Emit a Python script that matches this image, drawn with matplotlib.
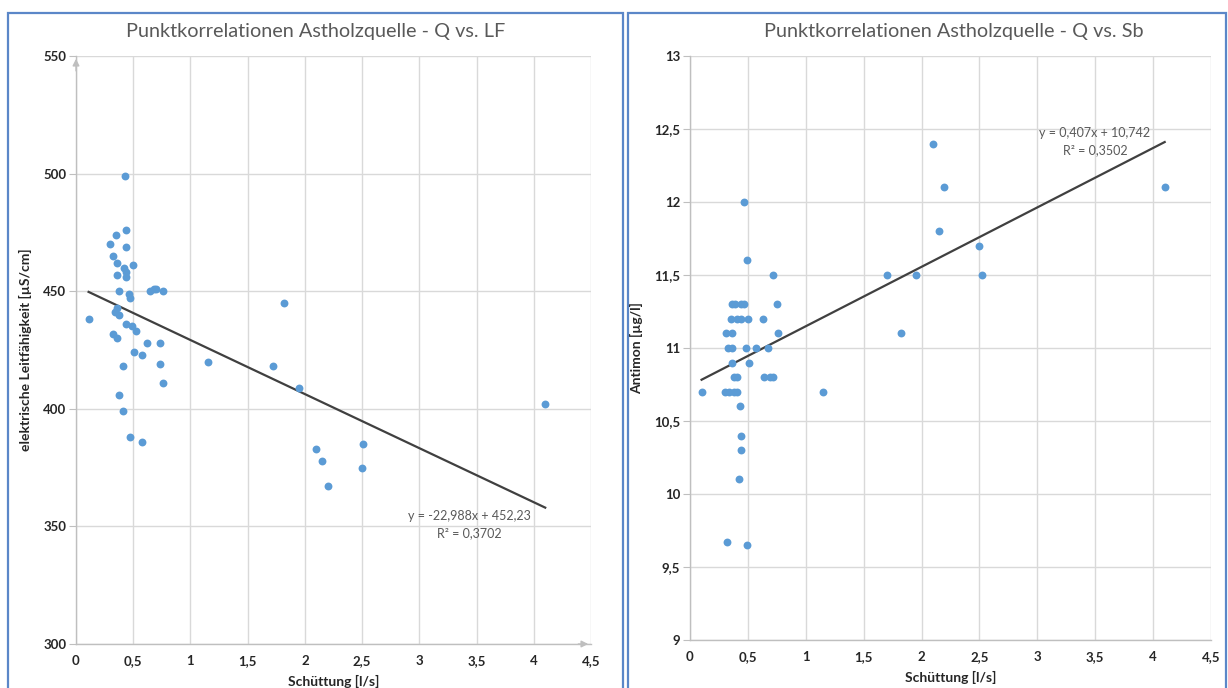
import matplotlib
matplotlib.use("Agg")
import numpy as np
from matplotlib import pyplot as plt
from matplotlib.patches import Rectangle

# Q vs. LF (left chart)
q_lf = [0.43, 0.44, 0.35, 0.44, 0.30, 0.32, 0.36, 0.50, 0.42, 0.44, 0.36, 0.44,
        0.38, 0.46, 0.47, 0.65, 0.68, 0.70, 0.76, 0.11, 0.36, 0.34, 0.38, 0.44,
        0.49, 0.52, 0.32, 0.36, 0.62, 0.73, 0.51, 0.58, 0.41, 0.73, 0.76, 0.38,
        0.41, 0.47, 0.58, 1.15, 1.72, 1.82, 1.95, 2.10, 2.15, 2.20, 2.51, 2.50,
        4.10]
lf = [499, 476, 474, 469, 470, 465, 462, 461, 460, 458, 457, 456,
      450, 449, 447, 450, 451, 451, 450, 438, 443, 441, 440, 436,
      435, 433, 432, 430, 428, 428, 424, 423, 418, 419, 411, 406,
      399, 388, 386, 420, 418, 445, 409, 383, 378, 367, 385, 375,
      402]
lf_fit = (-22.988, 452.23)
lf_eq = ["y = -22,988x + 452,23", "R² = 0,3702"]

# Q vs. Sb (right chart)
q_sb = [0.47, 0.49, 0.72, 0.36, 0.39, 0.44, 0.47, 0.75, 0.35, 0.41, 0.44, 0.50,
        0.63, 0.31, 0.36, 0.76, 0.33, 0.36, 0.48, 0.57, 0.67, 0.36, 0.51, 0.38,
        0.41, 0.64, 0.69, 0.72, 0.10, 0.30, 0.34, 0.38, 0.41, 0.43, 0.44, 0.44,
        0.42, 0.32, 0.49, 1.15, 1.70, 1.82, 1.95, 2.10, 2.15, 2.19, 2.50, 2.52,
        4.10]
sb = [12.0, 11.6, 11.5, 11.3, 11.3, 11.3, 11.3, 11.3, 11.2, 11.2, 11.2, 11.2,
      11.2, 11.1, 11.1, 11.1, 11.0, 11.0, 11.0, 11.0, 11.0, 10.9, 10.9, 10.8,
      10.8, 10.8, 10.8, 10.8, 10.7, 10.7, 10.7, 10.7, 10.7, 10.6, 10.4, 10.3,
      10.1, 9.67, 9.65, 10.7, 11.5, 11.1, 11.5, 12.4, 11.8, 12.1, 11.7, 11.5,
      12.1]
sb_fit = (0.407, 10.742)
sb_eq = ["y = 0,407x + 10,742", "R² = 0,3502"]

x_ticks = [0, 0.5, 1, 1.5, 2, 2.5, 3, 3.5, 4, 4.5]

W, H = 1228, 688
FONT = "Lato"
GRAY_TXT = "#595959"
BLUE = "#5B9BD5"
GRID = "#D9D9D9"


def fmt(v):
    return ("%g" % v).replace(".", ",")


def px_rect(x0, y0, x1, y1):
    return [x0 / W, 1 - y1 / H, (x1 - x0) / W, (y1 - y0) / H]


def draw(ax, q, val, fit, eq, yticks, ylabel, eq_pos):
    ax.scatter(q, val, s=32, color=BLUE, zorder=3, linewidths=0)
    xs = np.array([min(q), max(q)])
    ax.plot(xs, fit[0] * xs + fit[1], color="#404040", lw=1.6, zorder=2)

    ax.set_xlim(0, 4.5)
    ax.set_ylim(yticks[0], yticks[-1])
    ax.set_xticks(x_ticks)
    ax.set_xticklabels([fmt(t) for t in x_ticks])
    ax.set_yticks(yticks)
    ax.set_yticklabels([fmt(t) for t in yticks])
    ax.grid(True, color=GRID, lw=1)
    ax.set_axisbelow(True)
    for s in ["top", "right"]:
        ax.spines[s].set_visible(False)
    for s in ["left", "bottom"]:
        ax.spines[s].set_color("#BFBFBF")
        ax.spines[s].set_linewidth(1)
    ax.tick_params(axis="y", length=5, color="#BFBFBF", pad=2)
    ax.tick_params(axis="x", length=0, pad=8)
    for lab in ax.get_xticklabels() + ax.get_yticklabels():
        lab.set_fontweight("bold")
        lab.set_fontsize(9.5)
        lab.set_color("#262626")
        lab.set_family(FONT)
    ax.set_xlabel("Schüttung [l/s]", fontsize=10, fontweight="bold",
                  family=FONT, color="#262626", labelpad=6)
    ax.set_ylabel(ylabel, fontsize=10, fontweight="bold", family=FONT,
                  color="#262626", labelpad=8)

    # trendline equation, placed in pixel position
    ex, ey = eq_pos
    ax.figure.text(ex / W, 1 - ey / H, eq[0], ha="center", va="center",
                   fontsize=9, color=GRAY_TXT, family=FONT)
    ax.figure.text(ex / W, 1 - (ey + 17) / H, eq[1], ha="center", va="center",
                   fontsize=9, color=GRAY_TXT, family=FONT)


fig = plt.figure(figsize=(W / 100, H / 100), dpi=100)

# chart area borders
for x0, x1 in [(8, 623), (628, 1226)]:
    fig.add_artist(Rectangle((x0 / W, -0.05), (x1 - x0) / W, 1 - 13 / H + 0.05,
                             transform=fig.transFigure, fill=False,
                             edgecolor="#5B87C8", lw=1.6))

ax1 = fig.add_axes(px_rect(76, 56, 591, 644))
draw(ax1, q_lf, lf, lf_fit, lf_eq, [300, 350, 400, 450, 500, 550],
     "elektrische Leitfähigkeit [µS/cm]", (469, 516))
# arrow heads on the left chart axes
ax1.annotate("", xy=(0, 1.0), xytext=(0, 0.97), xycoords="axes fraction",
             arrowprops=dict(arrowstyle="-|>", color="#BFBFBF", lw=1,
                             mutation_scale=10))
ax1.annotate("", xy=(1.0, 0), xytext=(0.97, 0), xycoords="axes fraction",
             arrowprops=dict(arrowstyle="-|>", color="#BFBFBF", lw=1,
                             mutation_scale=10))

ax2 = fig.add_axes(px_rect(690, 56, 1211, 640))
draw(ax2, q_sb, sb, sb_fit, sb_eq, [9, 9.5, 10, 10.5, 11, 11.5, 12, 12.5, 13],
     "Antimon [µg/l]", (1095, 133))

fig.text(316 / W, 1 - 31 / H, "Punktkorrelationen Astholzquelle - Q vs. LF",
         ha="center", va="center", fontsize=14.3, color=GRAY_TXT, family=FONT)
fig.text(954 / W, 1 - 31 / H, "Punktkorrelationen Astholzquelle - Q vs. Sb",
         ha="center", va="center", fontsize=14.3, color=GRAY_TXT, family=FONT)

fig.savefig("out.png", dpi=100)
